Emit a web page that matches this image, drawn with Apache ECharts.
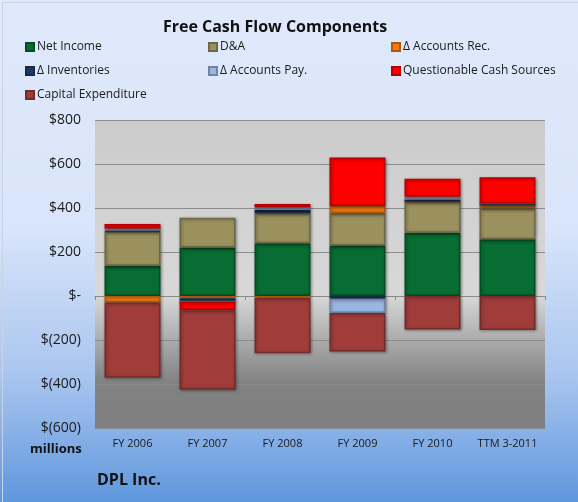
<!DOCTYPE html>
<html>
<head>
<meta charset="utf-8">
<script src="https://cdn.jsdelivr.net/npm/echarts@6/dist/echarts.min.js"></script>
<style>
  html, body { margin: 0; padding: 0; }
  #chart { width: 578px; height: 502px; }
</style>
</head>
<body>
<div id="chart"></div>
<script>
// values in $ millions
const categories = ["FY 2006", "FY 2007", "FY 2008", "FY 2009", "FY 2010", "TTM 3-2011"];
const netIncome = [138, 220, 240, 229, 288, 258];
const dna = [155, 136, 136, 147, 141, 141];
const accountsRec = [-30, -10, -8, 33, 0, 12];
const inventories = [4, -15, 15, -12, 10, 10];
const accountsPay = [10, 0, 12, -65, 12, 0];
const questionable = [20, -40, 15, 221, 82, 119];
const capex = [-342, -360, -252, -175, -152, -155];
const yTicks = [-600, -400, -200, 0, 200, 400, 600, 800];

const seriesDefs = [
    { name: "Net Income", data: netIncome, color: "#076d33" },
    { name: "D&A", data: dna, color: "#9a915f" },
    { name: "Δ Accounts Rec.", data: accountsRec, color: "#f07a10" },
    { name: "Δ Inventories", data: inventories, color: "#1f3b63" },
    { name: "Δ Accounts Pay.", data: accountsPay, color: "#9ab6e2" },
    { name: "Questionable Cash Sources", data: questionable, color: "#ff0000" },
    { name: "Capital Expenditure", data: capex, color: "#a03d3b" },
];

const font = "'Open Sans', 'Liberation Sans', sans-serif";

function money(v) {
    if (v === 0) return "$-";
    if (v < 0) return "$(" + Math.abs(v) + ")";
    return "$" + v;
}

// darker edge for the bevelled look
function darken(hex, k) {
    const n = parseInt(hex.slice(1), 16);
    const r = Math.round(((n >> 16) & 255) * k);
    const g = Math.round(((n >> 8) & 255) * k);
    const b = Math.round((n & 255) * k);
    return "rgb(" + r + "," + g + "," + b + ")";
}

const legendCommon = {
    orient: "vertical",
    itemWidth: 8,
    itemHeight: 8,
    itemGap: 12,
    icon: "rect",
    textStyle: { fontFamily: font, fontSize: 12, color: "#1a1a1a", padding: [0, 0, 0, -2] },
};

const chart = echarts.init(document.getElementById("chart"));
chart.setOption({
    animation: false,
    backgroundColor: {
        type: "linear", x: 0, y: 0, x2: 0, y2: 1,
        colorStops: [
            { offset: 0, color: "#dfe9fb" },
            { offset: 0.45, color: "#d9e5fa" },
            { offset: 0.75, color: "#a9c5ef" },
            { offset: 1, color: "#5f97dd" },
        ],
    },
    title: {
        text: "Free Cash Flow Components",
        left: 270,
        textAlign: "center",
        top: 14,
        textStyle: { fontFamily: font, fontSize: 16, fontWeight: "bold", color: "#111" },
    },
    legend: [
        Object.assign({ left: 20, top: 36, data: ["Net Income", "Δ Inventories", "Capital Expenditure"] }, legendCommon),
        Object.assign({ left: 203, top: 36, data: ["D&A", "Δ Accounts Pay."] }, legendCommon),
        Object.assign({ left: 386, top: 36, data: ["Δ Accounts Rec.", "Questionable Cash Sources"] }, legendCommon),
    ],
    graphic: [
        {
            type: "rect", left: 95, top: 120, z: -1,
            shape: { width: 450, height: 308 },
            style: {
                fill: {
                    type: "linear", x: 0, y: 0, x2: 0, y2: 1,
                    colorStops: [
                        { offset: 0, color: "#cbcbcb" },
                        { offset: 0.57, color: "#d8d8d8" },
                        { offset: 0.85, color: "#828282" },
                        { offset: 1, color: "#7f7f7f" },
                    ],
                },
            },
        },
        {
            type: "rect", left: 0, top: 0, z: 100, silent: true,
            shape: { width: 577, height: 501 },
            style: { fill: null, stroke: "#c8d4e4", lineWidth: 1 },
        },
        {
            type: "text", left: 30, top: 443,
            style: { text: "millions", font: "bold 13px " + font, fill: "#111" },
        },
        {
            type: "text", left: 97, top: 472,
            style: { text: "DPL Inc.", font: "bold 16px " + font, fill: "#111" },
        },
    ],
    grid: { left: 95, right: 33, top: 120, bottom: 74, outerBoundsMode: "none", containLabel: false },
    xAxis: [
        {
            type: "category",
            data: categories,
            position: "bottom",
            axisLine: { show: false, onZero: false },
            axisTick: { show: false },
            axisLabel: {
                interval: 0,
                fontFamily: font, fontSize: 11, color: "#1a1a1a",
                margin: 10,
            },
        },
        {
            type: "category",
            data: categories,
            position: "bottom",
            axisLine: { onZero: true, lineStyle: { color: "#8a8a8a" } },
            axisTick: { show: true, length: 4, lineStyle: { color: "#8a8a8a" } },
            axisLabel: { show: false },
        },
    ],
    yAxis: {
        type: "value",
        min: yTicks[0],
        max: yTicks[yTicks.length - 1],
        interval: 200,
        axisLine: { show: false },
        axisTick: { show: false },
        splitLine: { lineStyle: { color: "#8c8c8c", width: 1 } },
        axisLabel: {
            fontFamily: font, fontSize: 14, color: "#1a1a1a", margin: 14,
            formatter: money,
        },
    },
    series: seriesDefs.map(s => ({
        name: s.name,
        type: "bar",
        stack: "fcf",
        barWidth: 56,
        data: s.data,
        itemStyle: {
            color: s.color,
            borderColor: darken(s.color, 0.72),
            borderWidth: 1.5,
            shadowBlur: 3,
            shadowOffsetX: 1,
            shadowOffsetY: 1,
            shadowColor: "rgba(0,0,0,0.35)",
        },
    })),
});
</script>
</body>
</html>
